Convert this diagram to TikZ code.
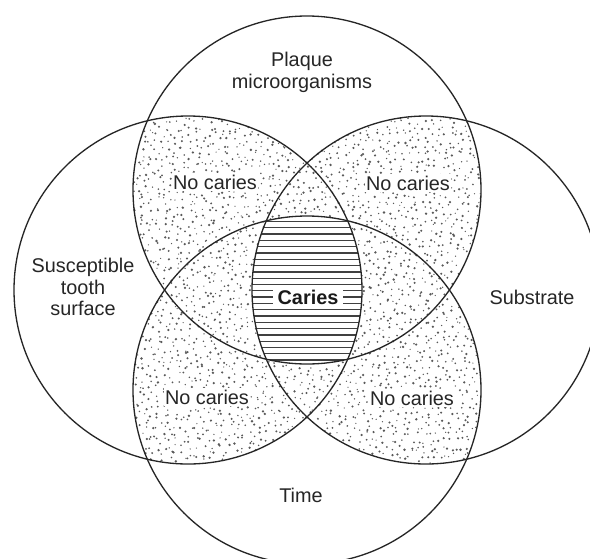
\documentclass[tikz,border=0pt]{standalone}
\usepackage{fontspec}
\setmainfont{Liberation Sans}
\begin{document}
\begin{tikzpicture}[x=0.02cm,y=-0.02cm,
  ring/.style={draw=black!85,line width=0.75pt},
  hatch/.style={draw=black!75,line width=0.7pt},
  dotc/.style={fill=black!65},
  lbl/.style={font=\fontsize{11.3}{12.4}\selectfont,text=black!85,align=center,inner sep=1pt},
  nolbl/.style={lbl,fill=white,inner sep=0.8pt},
  carieslbl/.style={font=\fontsize{11.3}{12.4}\selectfont\bfseries,text=black!90,fill=white,inner xsep=2.5pt,inner ysep=0.6pt}]
\useasboundingbox (0,0) rectangle (590,558);
\fill[white] (0,0) rectangle (590,558);
\coordinate (cT) at (307,190);
\coordinate (cB) at (307,390);
\coordinate (cL) at (188,290);
\coordinate (cR) at (426,290);
% stipple: points lying in two or three circles
\pgfmathsetseed{7}
\foreach \gx in {128,134.5,...,486}{
  \foreach \gy in {112,118.5,...,468}{
    \pgfmathsetmacro\px{\gx+6.5*rnd}
    \pgfmathsetmacro\py{\gy+6.5*rnd}
    \pgfmathtruncatemacro\n{((((\px/10-30.7)^2+(\py/10-19.0)^2)<302.76)+(((\px/10-30.7)^2+(\py/10-39.0)^2)<302.76)+(((\px/10-18.8)^2+(\py/10-29.0)^2)<302.76)+(((\px/10-42.6)^2+(\py/10-29.0)^2)<302.76))}
    \pgfmathsetmacro\dr{0.35+0.4*rnd}
    \ifnum\n>1 \ifnum\n<4 \fill[dotc] (\px,\py) circle[radius=\dr pt]; \fi\fi
  }
}
% central region: all four circles
\begin{scope}
  \clip (cT) circle[radius=174];
  \clip (cB) circle[radius=174];
  \clip (cL) circle[radius=174];
  \clip (cR) circle[radius=174];
  \fill[white] (200,200) rectangle (420,380);
  \foreach \y in {221.5,227.8,...,366}{
    \draw[hatch] (240,\y) -- (380,\y);
  }
\end{scope}
% circles
\draw[ring] (cT) circle[radius=174];
\draw[ring] (cB) circle[radius=174];
\draw[ring] (cL) circle[radius=174];
\draw[ring] (cR) circle[radius=174];
% labels
\node[lbl] (plaque) at (302,72) {Plaque\\microorganisms};
\node[lbl] (tooth) at (83,287) {Susceptible\\tooth\\surface};
\node[lbl] (subst) at (532,297) {Substrate};
\node[lbl] (time) at (301,495) {Time};
\node[carieslbl] (caries) at (308,297) {Caries};
\node[nolbl] (nc1) at (215,182) {No caries};
\node[nolbl] (nc2) at (408,183) {No caries};
\node[nolbl] (nc3) at (207,397) {No caries};
\node[nolbl] (nc4) at (412,398) {No caries};
\end{tikzpicture}
\end{document}
